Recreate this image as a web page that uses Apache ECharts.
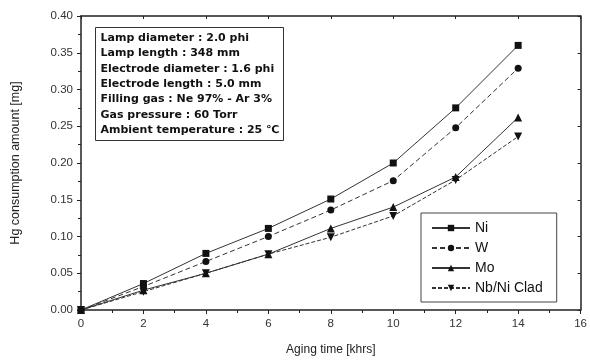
<!DOCTYPE html>
<html><head><meta charset="utf-8">
<script src="https://cdn.jsdelivr.net/npm/echarts@6/dist/echarts.min.js"></script>
<style>html,body{margin:0;padding:0;background:#fff}#c{width:590px;height:361px}</style>
</head><body><div id="c"></div>
<script>
const xValues = [0, 2, 4, 6, 8, 10, 12, 14];
const ni   = [0, 0.036, 0.077, 0.111, 0.151, 0.200, 0.275, 0.360];
const w    = [0, 0.032, 0.066, 0.100, 0.136, 0.176, 0.248, 0.329];
const mo   = [0, 0.027, 0.050, 0.076, 0.111, 0.140, 0.181, 0.262];
const nb   = [0, 0.025, 0.050, 0.076, 0.099, 0.128, 0.177, 0.236];
const seriesNames = ['Ni', 'W', 'Mo', 'Nb/Ni Clad'];
const infoLines = [
  'Lamp diameter : 2.0 phi',
  'Lamp length : 348 mm',
  'Electrode diameter : 1.6 phi',
  'Electrode length : 5.0 mm',
  'Filling gas : Ne 97% - Ar 3%',
  'Gas pressure : 60 Torr',
  'Ambient temperature : 25 \u2103'
];

const pair = arr => xValues.map((x, i) => [x, arr[i]]);
const chart = echarts.init(document.getElementById('c'));
const font = 'Arial, "Liberation Sans", sans-serif';
function mk(name, data, symbol, lineType, rotate, size) {
  return {
    name, type: 'line', data: pair(data), symbol, symbolSize: size, symbolRotate: rotate,
    itemStyle: { color: '#111' },
    lineStyle: { color: '#333', width: 1, type: lineType },
    showSymbol: true, z: 3
  };
}
chart.setOption({
  animation: false,
  backgroundColor: '#fff',
  grid: { left: 81, right: 7, top: 16, bottom: 47, show: false },
  legend: {
    data: seriesNames.map(n => ({ name: n })),
    left: 421, top: 213, width: 136,
    orient: 'vertical', itemGap: 6, itemWidth: 38, itemHeight: 8,
    padding: [8, 14, 7, 10],
    borderColor: '#444', borderWidth: 1, backgroundColor: '#fff',
    textStyle: { fontFamily: font, fontSize: 14, color: '#111' }
  },
  xAxis: [{
    type: 'value', min: 0, max: 16, interval: 2,
    name: 'Aging time [khrs]', nameLocation: 'middle', nameGap: 34,
    nameTextStyle: { fontFamily: font, fontSize: 12, color: '#222' },
    axisLine: { lineStyle: { color: '#222', width: 1.5 } },
    axisTick: { show: true, inside: false, length: 4, lineStyle: { color: '#222' } },
    minorTick: { show: true, splitNumber: 2, length: 3, lineStyle: { color: '#222' } },
    axisLabel: { fontFamily: font, fontSize: 11.5, color: '#333', margin: 8 },
    splitLine: { show: false }
  }, {
    type: 'value', min: 0, max: 16, interval: 2, position: 'top',
    axisLine: { show: true, onZero: false, lineStyle: { color: '#222', width: 1.5 } },
    axisTick: { show: true, inside: true, length: 3, lineStyle: { color: '#222' } },
    axisLabel: { show: false }, splitLine: { show: false }
  }],
  yAxis: [{
    type: 'value', min: 0, max: 0.4, interval: 0.05,
    name: 'Hg consumption amount [mg]', nameLocation: 'middle', nameGap: 59,
    nameTextStyle: { fontFamily: font, fontSize: 12.5, color: '#222' },
    axisLine: { show: true, lineStyle: { color: '#222', width: 1.5 } },
    axisTick: { show: true, inside: false, length: 4, lineStyle: { color: '#222' } },
    minorTick: { show: true, splitNumber: 2, length: 3, lineStyle: { color: '#222' } },
    axisLabel: { fontFamily: font, fontSize: 11.5, color: '#333', margin: 8, formatter: v => v.toFixed(2) },
    splitLine: { show: false }
  }, {
    type: 'value', min: 0, max: 0.4, interval: 0.05, position: 'right',
    axisLine: { show: true, onZero: false, lineStyle: { color: '#222', width: 1.5 } },
    axisTick: { show: true, inside: true, length: 3, lineStyle: { color: '#222' } },
    axisLabel: { show: false }, splitLine: { show: false }
  }],
  graphic: [{
    type: 'group', left: 95, top: 27,
    children: [
      { type: 'rect', shape: { x: 0, y: 0, width: 188, height: 113 },
        style: { fill: '#fff', stroke: '#333', lineWidth: 1 } },
      { type: 'text', left: 5, top: 3,
        style: { text: infoLines.join('\n'), fontFamily: '"DejaVu Sans", sans-serif', fontWeight: 'bold',
                 fontSize: 11, lineHeight: 15.3, fill: '#111' } }
    ]
  }],
  series: [
    mk(seriesNames[0], ni, 'rect', 'solid', 0, 7),
    mk(seriesNames[1], w, 'circle', [5, 3], 0, 7),
    mk(seriesNames[2], mo, 'triangle', 'solid', 0, 8),
    mk(seriesNames[3], nb, 'triangle', [4, 2], 180, 8)
  ]
});
</script></body></html>
